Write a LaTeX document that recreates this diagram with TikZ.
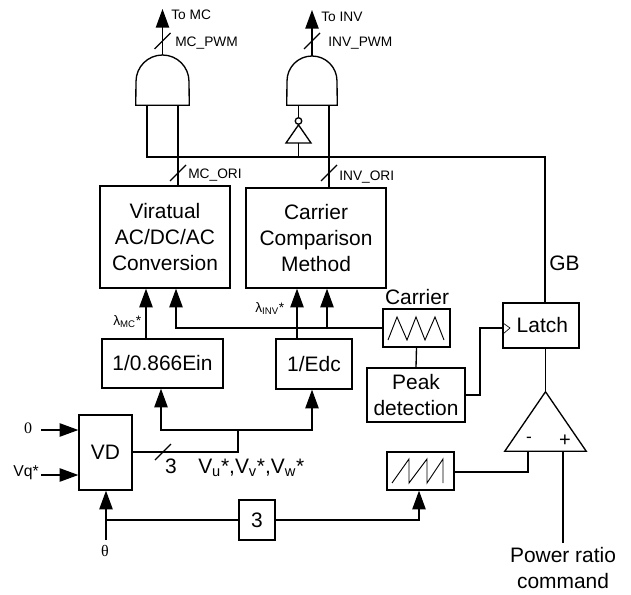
\documentclass[tikz,border=0pt]{standalone}
\usepackage{fontspec}
\setmainfont{Liberation Sans}
\newfontfamily\serifsym{Liberation Serif}
\usetikzlibrary{fit,arrows.meta}

\tikzset{
    wire/.style={line width=1pt},
    sig/.style={line width=1pt, -{Triangle[length=14pt,width=10pt]}},
    thin wave/.style={line width=.7pt},
    big/.style={font=\fontsize{15.7}{19.5}\selectfont, align=center, inner sep=0pt},
    small/.style={font=\fontsize{10.3}{12}\selectfont, inner sep=0pt},
    block/.style={draw, line width=1pt, inner sep=0pt}
}

\begin{document}
\begin{tikzpicture}[x=.75pt, y=-.75pt]
        \useasboundingbox (0, 0) rectangle (631, 595);

        % blocks
        \node[block, fit={(100, 186) (230, 288)}, label={[big]center:Viratual\\AC/DC/AC\\Conversion}] (conv) {};
        \node[block, fit={(246, 188) (386, 288)}, label={[big]center:Carrier\\Comparison\\Method}] (comp) {};
        \node[block, fit={(102, 339) (223, 388)}, label={[big]center:1/0.866Ein}] (ein) {};
        \node[block, fit={(276, 339) (352, 389)}, label={[big]center:1/Edc}] (edc) {};
        \node[block, fit={(383, 309) (450, 347)}] (carrier) {};
        \node[block, fit={(367, 368) (465, 422)}, label={[big]center:Peak\\detection}] (peak) {};
        \node[block, fit={(503, 303) (579, 348)}, label={[big, xshift=1pt]center:Latch}] (latch) {};
        \node[block, fit={(79, 415) (132, 490)}, label={[big]center:VD}] (vd) {};
        \node[block, fit={(239, 500) (275, 540)}, label={[big]center:3}] (three) {};
        \node[block, fit={(387, 452) (454, 490)}] (saw) {};
        \node[fit={(136, 55) (189, 105)}, inner sep=0pt] (andMC) {};
        \node[fit={(287, 56) (337, 105)}, inner sep=0pt] (andINV) {};
        \node[draw, wire, circle, minimum size=6.5*.75pt, inner sep=0pt] (bub) at (298.5, 121) {};
        \node[fit={(505, 392) (586, 451)}, inner sep=0pt] (cmp) {};

        \coordinate (toMC) at (162.5, 9);
        \coordinate (toINV) at (312, 10);
        \coordinate (invB) at (298.5, 143);
        \coordinate (busA) at (147, 157);
        \coordinate (busB) at (178, 157);
        \coordinate (busC) at (298.5, 157);
        \coordinate (busD) at (329, 157);
        \coordinate (busE) at (545, 157);
        \coordinate (lamMC) at (146, 0);
        \coordinate (carMC) at (176, 328);
        \coordinate (lamINV) at (297, 0);
        \coordinate (carINV) at (327, 328);
        \coordinate (refA) at (161, 430);
        \coordinate (refB) at (312, 430);
        \coordinate (refC) at (238, 430);
        \coordinate (refD) at (238, 452);
        \coordinate (zero) at (41, 430);
        \coordinate (vq) at (41, 475);
        \coordinate (theta) at (106, 540);
        \coordinate (thetaJ) at (106, 520);
        \coordinate (sawJ) at (419, 520);
        \coordinate (peakA) at (480, 395);
        \coordinate (peakB) at (480, 328);
        \coordinate (sawA) at (528, 472);
        \coordinate (minus) at (528, 451);
        \coordinate (plus) at (563, 451);
        \coordinate (power) at (563, 543);
        \coordinate (tickA) at (162.5, 41);
        \coordinate (tickB) at (312, 41);
        \coordinate (tickC) at (178, 173);
        \coordinate (tickD) at (329, 173);
        \coordinate (tickE) at (163, 452);

        % gates
        \draw[wire] (andMC.south west) -- (136, 81.5) arc[start angle=180, end angle=360, radius=26.5] -- (andMC.south east) -- cycle;
        \draw[wire] (andINV.south west) -- (287, 81) arc[start angle=180, end angle=360, radius=25] -- (andINV.south east) -- cycle;
        \draw[wire] (bub.south) -- (286, 143) -- (311, 143) -- cycle;
        \draw[wire] (cmp.north) -- (cmp.south west) -- (cmp.south east) -- cycle;

        % waves
        \draw[thin wave] (388, 340) -- (397, 317) -- (407, 340) -- (416, 317) -- (425, 340) -- (435, 317) -- (444, 340);
        \draw[thin wave] (392, 483) -- (409, 459) -- (409, 483) -- (427, 459) -- (427, 483) -- (443, 459) -- (443, 483);
        \draw[line width=.5pt] (503, 323) -- (510, 328) -- (503, 334);

        % connectors
        \draw [sig]  (andMC.north) -- (toMC);
        \draw [sig]  (andINV.north) -- (toINV);
        \draw [wire] (busA |- andMC.south) -- (busA) -- (busE) -- (busE |- latch.north);
        \draw [wire] (busB |- andMC.south) -- (busB |- conv.north);
        \draw [wire] (busC |- andINV.south) -- (bub.north);
        \draw [wire] (invB) -- (busC);
        \draw [wire] (busD |- andINV.south) -- (busD |- comp.north);
        \draw [sig]  (lamMC |- ein.north) -- (lamMC |- conv.south);
        \draw [sig]  (carrier.west) -- (carMC) -- (carMC |- conv.south);
        \draw [sig]  (lamINV |- edc.north) -- (lamINV |- comp.south);
        \draw [sig]  (carINV) -- (carINV |- comp.south);
        \draw [wire] (carrier.south) -- (peak.north);
        \draw [wire] (peak.east |- peakA) -- (peakA) -- (peakB) -- (latch.west |- peakB);
        \draw [wire] (latch.south -| cmp.north) -- (cmp.north);
        \draw [wire] (vd.east |- refD) -- (refD) -- (refC);
        \draw [sig]  (refC) -- (refA) -- (refA |- ein.south);
        \draw [sig]  (refC) -- (refB) -- (refB |- edc.south);
        \draw [sig]  (zero) -- (vd.west |- zero);
        \draw [sig]  (vq) -- (vd.west |- vq);
        \draw [sig]  (theta) -- (theta |- vd.south);
        \draw [wire] (thetaJ) -- (three.west);
        \draw [sig]  (three.east) -- (sawJ) -- (sawJ |- saw.south);
        \draw [wire] (saw.east |- sawA) -- (sawA) -- (minus);
        \draw [wire] (power) -- (plus);

        % ticks
        \foreach \t in {tickA, tickB, tickC, tickD, tickE}
            \draw [wire] ([shift={(-8, 8)}]\t) -- ([shift={(8, -8)}]\t);

        % labels
        \node[small, anchor=west] (lToMC) at (171, 15) {To MC};
        \node[small, anchor=west] (lToINV) at (321, 17) {To INV};
        \node[small, anchor=west] (lMCpwm) at (175, 43) {MC\_PWM};
        \node[small, anchor=west] (lINVpwm) at (328, 43) {INV\_PWM};
        \node[small, anchor=west] (lMCori) at (188, 175) {MC\_ORI};
        \node[small, anchor=west] (lINVori) at (339, 177) {INV\_ORI};
        \node[small, anchor=west] (lLamMC) at (113, 322) {λ\textsubscript{MC}*};
        \node[small, anchor=west] (lLamINV) at (255, 309) {λ\textsubscript{INV}*};
        \node[big] (lCarrier) at (417, 297) {Carrier};
        \node[big, anchor=west] (lGB) at (549, 263) {GB};
        \node[big] (lThree) at (171, 466) {3};
        \node[big, anchor=west] (lVuvw) at (198, 468) {V\textsubscript{u}*,V\textsubscript{v}*,V\textsubscript{w}*};
        \node[small, font=\fontsize{11.8}{14}\selectfont, anchor=west] (lVq) at (13, 473) {Vq*};
        \node[small, font=\fontsize{12}{14}\serifsym] (lZero) at (28, 428) {0};
        \node[small, font=\fontsize{12}{14}\serifsym] (lTheta) at (105, 551) {θ};
        \node[small, font=\fontsize{13}{14}\selectfont] (lMinus) at (529, 440) {-};
        \node[small, font=\fontsize{15}{16}\selectfont] (lPlus) at (565, 441) {+};
        \node[big, anchor=north] (lPower) at (563, 547) {Power ratio\\command};
    \end{tikzpicture}
\end{document}
